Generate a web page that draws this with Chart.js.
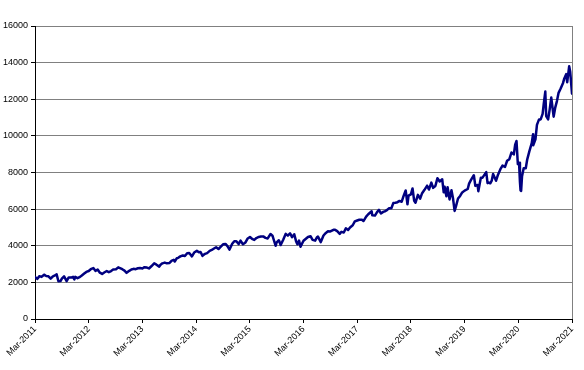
<!DOCTYPE html>
<html>
<head>
<meta charset="utf-8">
<script src="https://cdn.jsdelivr.net/npm/chart.js@4/dist/chart.umd.min.js"></script>
<style>
  body { margin: 0; background: #fff; }
  #wrap { width: 584px; height: 370px; }
</style>
</head>
<body>
<div id="wrap"><canvas id="indexChart" width="584" height="370"></canvas></div>
<script>
// index level, roughly two readings a month
const dates = [
  '2011-03-01','2011-03-16','2011-04-01','2011-04-15','2011-05-02','2011-05-16','2011-06-01','2011-06-16','2011-07-01','2011-07-15','2011-07-26','2011-08-08','2011-08-22','2011-09-01','2011-09-16','2011-10-03','2011-10-17','2011-11-01','2011-11-16','2011-11-25','2011-12-01','2011-12-16',
  '2012-01-03','2012-01-17','2012-02-01','2012-02-15','2012-03-01','2012-03-15','2012-04-02','2012-04-16','2012-05-01','2012-05-16','2012-06-01','2012-06-15','2012-07-02','2012-07-16','2012-08-01','2012-08-15','2012-09-04','2012-09-19','2012-10-01','2012-10-16','2012-11-01','2012-11-15','2012-12-03','2012-12-17',
  '2013-01-02','2013-01-16','2013-02-01','2013-02-15','2013-03-01','2013-03-15','2013-04-01','2013-04-15','2013-05-01','2013-05-20','2013-06-03','2013-06-24','2013-07-01','2013-07-15','2013-08-01','2013-08-15','2013-09-03','2013-09-18','2013-10-01','2013-10-08','2013-10-22','2013-11-01','2013-11-15','2013-12-02','2013-12-16','2013-12-31',
  '2014-01-15','2014-02-03','2014-02-18','2014-03-06','2014-03-20','2014-04-01','2014-04-14','2014-05-01','2014-05-15','2014-06-02','2014-06-16','2014-07-01','2014-07-15','2014-08-01','2014-08-15','2014-09-02','2014-09-18','2014-10-01','2014-10-15','2014-11-03','2014-11-17','2014-12-01','2014-12-16','2014-12-29',
  '2015-01-15','2015-02-02','2015-02-17','2015-03-02','2015-03-16','2015-04-01','2015-04-15','2015-05-01','2015-05-15','2015-06-01','2015-06-16','2015-07-01','2015-07-20','2015-08-03','2015-08-24','2015-09-01','2015-09-16','2015-09-28','2015-10-15','2015-11-02','2015-11-16','2015-12-01','2015-12-14','2015-12-29',
  '2016-01-11','2016-01-20','2016-02-01','2016-02-11','2016-03-01','2016-03-15','2016-04-01','2016-04-18','2016-05-02','2016-05-19','2016-06-01','2016-06-08','2016-06-27','2016-07-15','2016-08-01','2016-08-15','2016-09-01','2016-09-22','2016-10-03','2016-10-17','2016-11-04','2016-11-15','2016-12-01','2016-12-15','2016-12-30',
  '2017-01-13','2017-02-01','2017-02-15','2017-03-01','2017-03-15','2017-04-03','2017-04-13','2017-05-01','2017-05-15','2017-06-08','2017-06-12','2017-06-30','2017-07-14','2017-07-27','2017-08-10','2017-08-25','2017-09-08','2017-09-22','2017-10-05','2017-10-20','2017-11-03','2017-11-17','2017-12-01','2017-12-15','2017-12-29',
  '2018-01-12','2018-01-26','2018-02-08','2018-02-15','2018-03-01','2018-03-12','2018-03-23','2018-04-02','2018-04-18','2018-05-03','2018-05-15','2018-06-01','2018-06-20','2018-07-02','2018-07-18','2018-07-30','2018-08-15','2018-08-29','2018-09-14','2018-10-01','2018-10-11','2018-10-17','2018-10-29','2018-11-07','2018-11-20','2018-12-03','2018-12-14','2018-12-24',
  '2019-01-03','2019-01-17','2019-02-01','2019-02-15','2019-03-01','2019-03-22','2019-04-01','2019-04-15','2019-05-03','2019-05-13','2019-05-28','2019-06-03','2019-06-20','2019-07-01','2019-07-26','2019-08-05','2019-08-14','2019-08-23','2019-09-03','2019-09-12','2019-10-02','2019-10-15','2019-11-01','2019-11-15','2019-12-02','2019-12-16','2019-12-31',
  '2020-01-15','2020-01-31','2020-02-10','2020-02-19','2020-02-28','2020-03-06','2020-03-12','2020-03-16','2020-03-20','2020-03-26','2020-04-07','2020-04-21','2020-05-01','2020-05-15','2020-06-01','2020-06-10','2020-06-11','2020-06-26','2020-07-06','2020-07-20','2020-07-31','2020-08-14','2020-08-21','2020-09-02','2020-09-08','2020-09-21','2020-10-01','2020-10-12','2020-10-28','2020-11-09','2020-11-20','2020-12-01','2020-12-15','2020-12-31',
  '2021-01-08','2021-01-22','2021-01-29','2021-02-12','2021-02-19','2021-02-25','2021-03-01'
];

const values = [
  2290,2190,2340,2300,2420,2350,2330,2200,2330,2380,2440,2060,2070,2200,2330,2070,2270,2260,2300,2160,2300,2230,
  2300,2390,2480,2570,2620,2720,2780,2630,2700,2530,2460,2540,2620,2560,2620,2700,2720,2820,2780,2720,2640,2520,2630,2700,
  2740,2720,2770,2780,2760,2830,2810,2760,2880,3040,2980,2860,2950,3040,3080,3040,3060,3190,3230,3140,3320,3340,3420,3470,3440,3590,
  3600,3420,3630,3720,3640,3660,3450,3560,3600,3720,3770,3850,3920,3820,3940,4080,4100,3980,3790,4110,4250,4250,4090,4280,
  4080,4180,4400,4480,4380,4320,4420,4480,4500,4510,4430,4400,4640,4550,4000,4180,4300,4040,4330,4650,4550,4680,4470,4630,
  4250,4080,4280,3950,4270,4370,4480,4520,4320,4280,4460,4500,4200,4560,4700,4790,4780,4870,4870,4800,4650,4760,4720,4950,4860,
  5000,5120,5330,5380,5420,5420,5350,5590,5720,5880,5660,5650,5840,5960,5760,5850,5880,5960,6050,6050,6330,6350,6380,6450,6400,
  6720,7020,6260,6740,6810,7130,6450,6350,6780,6570,6850,7040,7280,7070,7450,7160,7260,7690,7510,7630,6920,7220,6700,7200,6530,7030,6550,5900,
  6150,6580,6720,6910,7010,7100,7390,7610,7850,7270,7320,6980,7720,7720,8020,7420,7450,7410,7560,7920,7550,7880,8180,8380,8310,8640,8730,
  9090,8990,9520,9720,8460,8530,7480,7020,7000,7800,8230,8230,8720,9150,9600,10090,9490,9810,10600,10900,10900,11200,11700,12420,11080,10900,11420,12090,11050,11560,11900,12350,12590,12890,
  13100,13370,12930,13800,13500,12900,12300
];

const startYear = 2011;
const yTicks = [0, 2000, 4000, 6000, 8000, 10000, 12000, 14000, 16000];

// months since Mar-2011
function monthsFromStart(s) {
  const [y, m, d] = s.split('-').map(Number);
  return (y - startYear) * 12 + (m - 3) + (d - 1) / 30;
}

const points = dates.map((d, i) => ({ x: monthsFromStart(d), y: values[i] }));

const rightBorder = {
  id: 'rightBorder',
  afterDatasetsDraw(chart) {
    const { ctx, chartArea } = chart;
    ctx.save();
    ctx.strokeStyle = '#808080';
    ctx.lineWidth = 1;
    ctx.beginPath();
    ctx.moveTo(Math.round(chartArea.right) + 0.5, chartArea.top);
    ctx.lineTo(Math.round(chartArea.right) + 0.5, chartArea.bottom);
    ctx.stroke();
    ctx.restore();
  }
};

const font = { family: 'Liberation Sans, Arial, sans-serif', size: 9 };

new Chart(document.getElementById('indexChart').getContext('2d'), {
  type: 'line',
  data: {
    datasets: [{
      data: points,
      borderColor: '#000080',
      borderWidth: 2.5,
      borderJoinStyle: 'round',
      borderCapStyle: 'round',
      pointRadius: 0,
      tension: 0,
      fill: false
    }]
  },
  options: {
    responsive: false,
    animation: false,
    devicePixelRatio: 1,
    layout: { padding: { top: 26, right: 12, left: 0, bottom: 0 } },
    plugins: {
      legend: { display: false },
      tooltip: { enabled: false }
    },
    scales: {
      x: {
        type: 'linear',
        min: 0,
        max: 120,
        afterFit(scale) { scale.height = 51; },
        afterBuildTicks(scale) {
          scale.ticks = [];
          for (let v = 0; v <= 120; v += 12) scale.ticks.push({ value: v });
        },
        ticks: {
          color: '#000',
          font: font,
          minRotation: 45,
          maxRotation: 45,
          padding: 1,
          callback: v => 'Mar-' + (startYear + v / 12)
        },
        grid: { drawOnChartArea: false, drawTicks: true, tickLength: 4, color: '#000' },
        border: { color: '#000', width: 1 }
      },
      y: {
        min: 0,
        max: 16000,
        afterFit(scale) { scale.width = 35; },
        afterBuildTicks(scale) {
          scale.ticks = yTicks.map(v => ({ value: v }));
        },
        ticks: { color: '#000', font: font, padding: 3, callback: v => String(v) },
        grid: { color: '#808080', lineWidth: 1, tickLength: 4, tickColor: '#000' },
        border: { color: '#000', width: 1 }
      }
    }
  },
  plugins: [rightBorder]
});
</script>
</body>
</html>
